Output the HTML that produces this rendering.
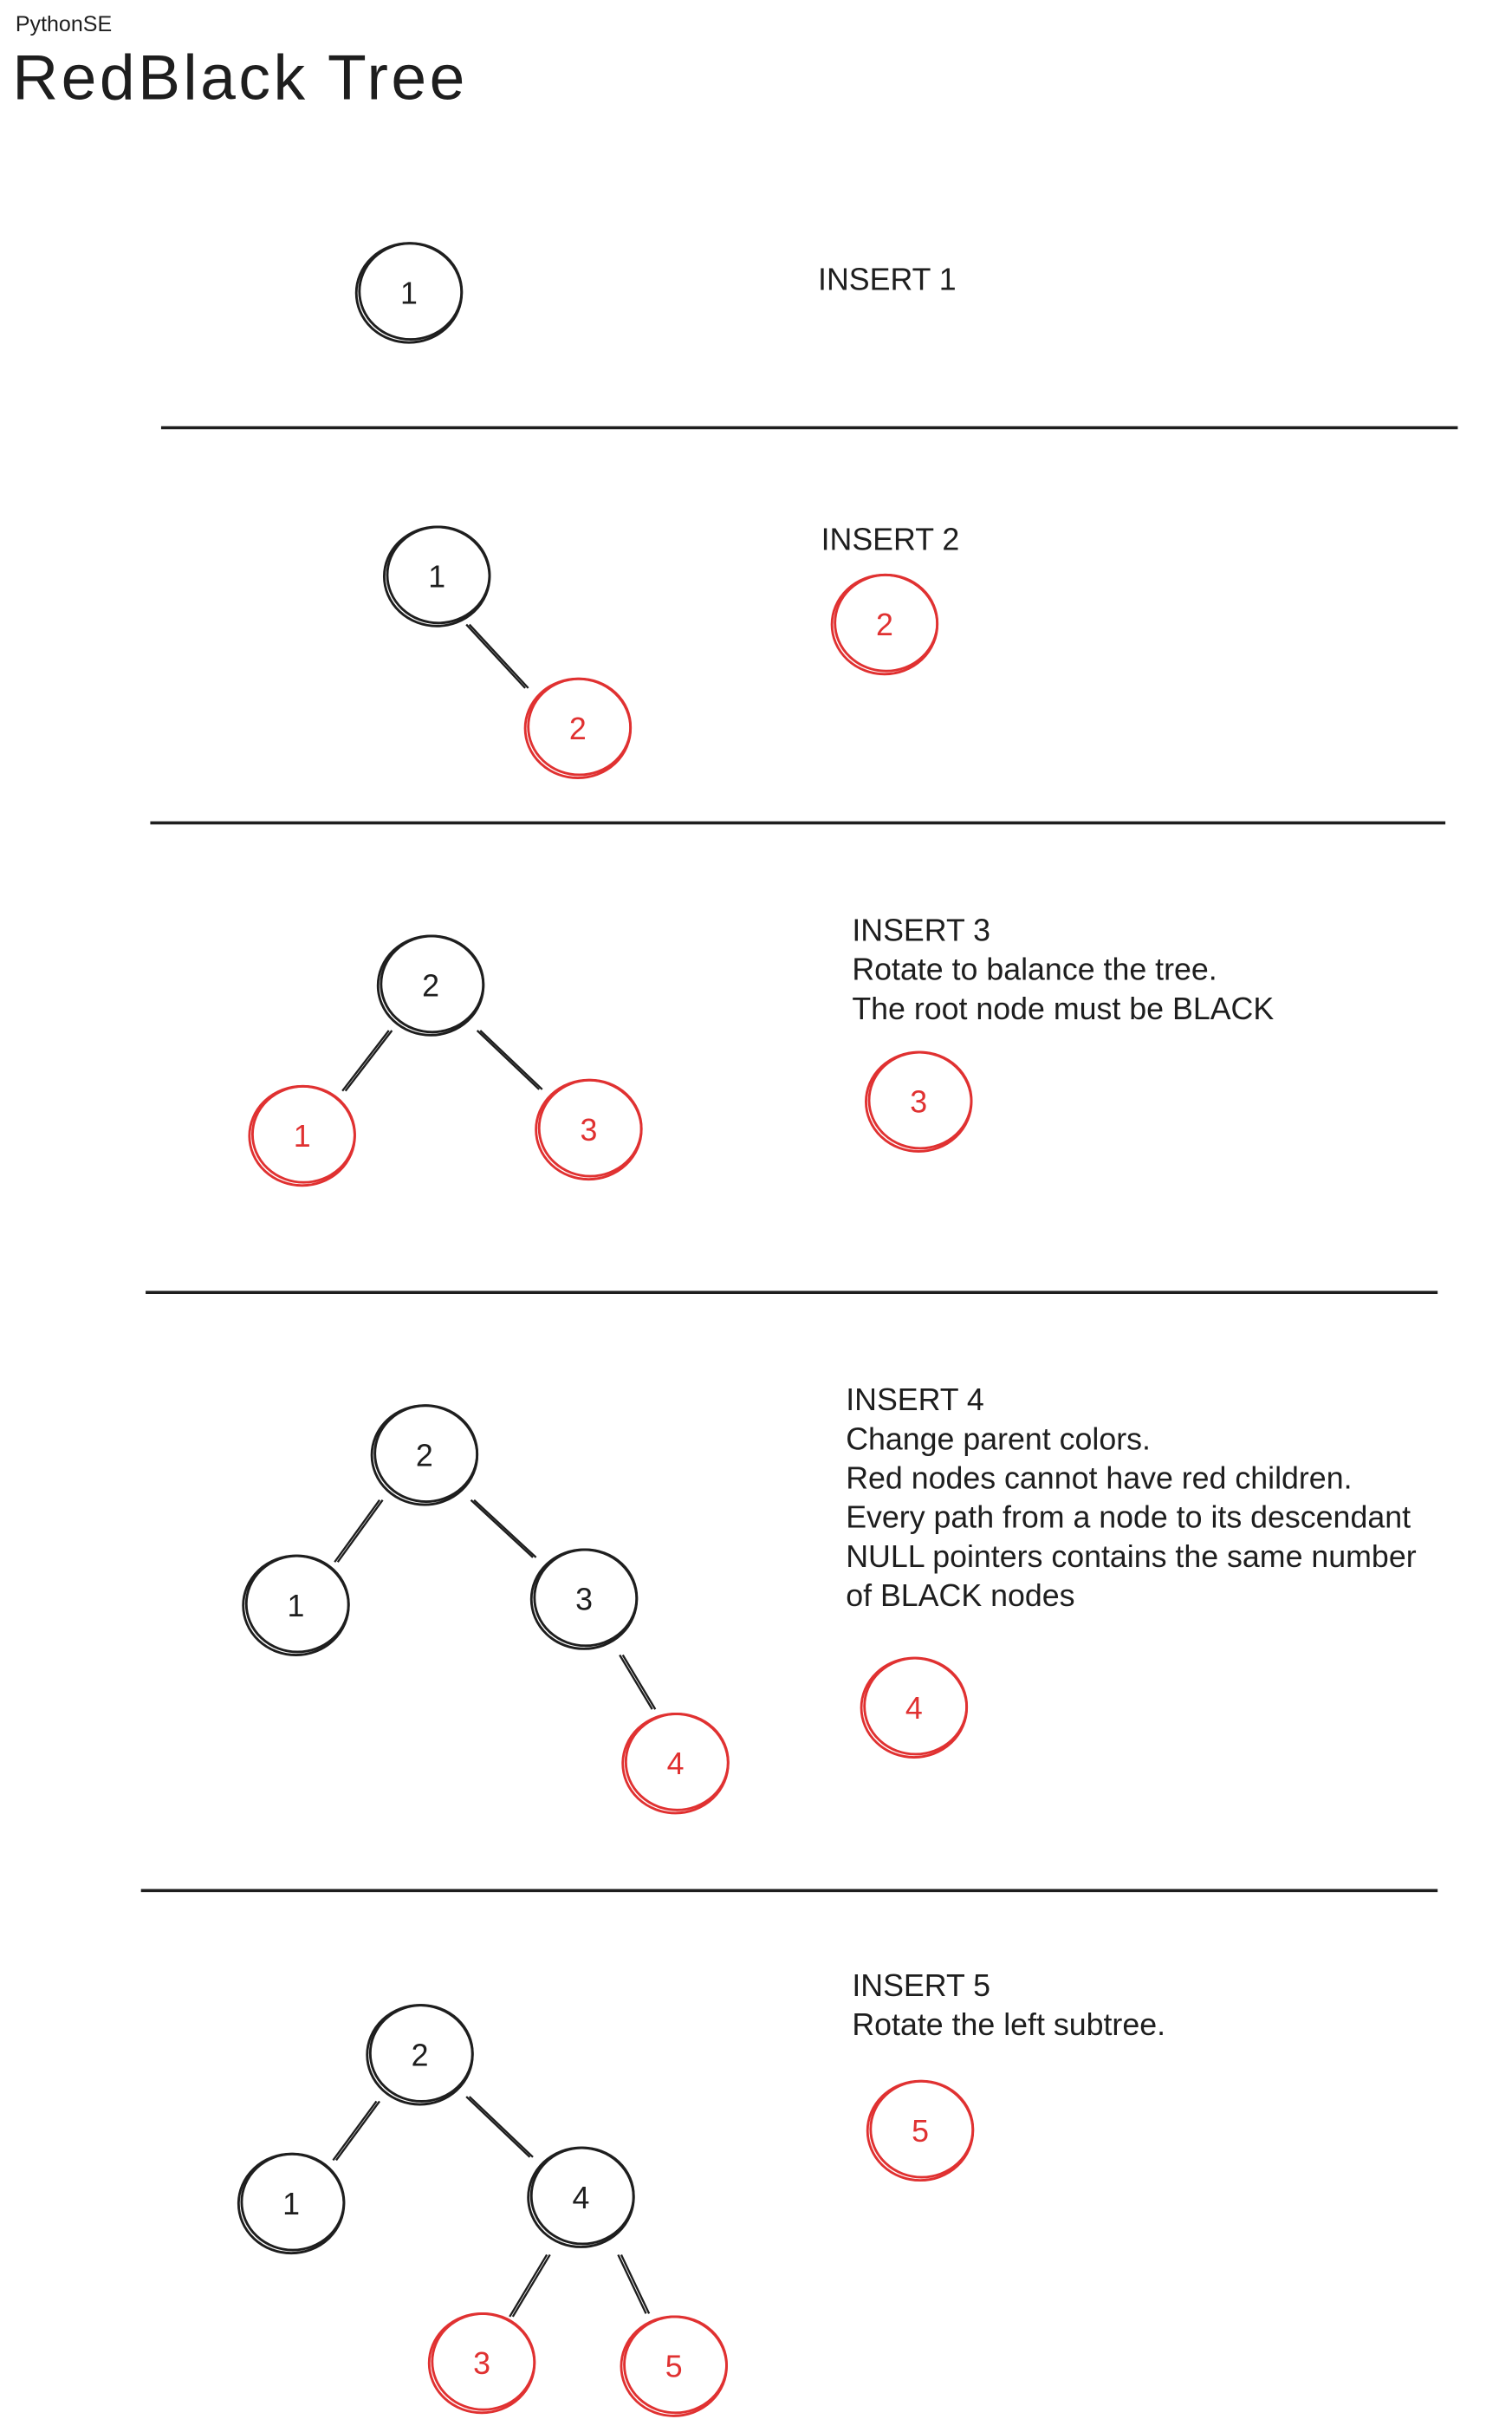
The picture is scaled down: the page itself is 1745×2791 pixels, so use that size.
<!DOCTYPE html>
<html>
<head>
<meta charset="utf-8">
<style>
html,body{margin:0;padding:0;background:#fff;}
svg{display:block;}
text{font-family:"Liberation Sans",sans-serif;}
</style>
</head>
<body>
<svg id="chart" width="1745" height="2791" viewBox="0 0 976 1561" xmlns="http://www.w3.org/2000/svg">
<rect width="976" height="1561" fill="#fff"/>
<text x="10" y="20" font-size="14" fill="#1e1e1e">PythonSE</text>
<text x="8" y="64" font-size="41" fill="#1e1e1e" textLength="292">RedBlack Tree</text>
<g transform="translate(-1,-2)">
<g id="lines"></g>
<g id="edges"></g>
<g id="nodes"></g>
<g id="notes"></g>
</g>
</svg>
<script>
const NS='http://www.w3.org/2000/svg';
// nodes: [x, y, label, color]
const nodes=[
 [265,191,'1','b'],
 [283,374,'1','b'],[374,472,'2','r'],[572,405,'2','r'],
 [279,638,'2','b'],[196,735,'1','r'],[381,731,'3','r'],[594,713,'3','r'],
 [275,941,'2','b'],[192,1038,'1','b'],[378,1034,'3','b'],[437,1140,'4','r'],[591,1104,'4','r'],
 [272,1328,'2','b'],[189,1424,'1','b'],[376,1420,'4','b'],[312,1527,'3','r'],[436,1529,'5','r'],[595,1377,'5','r']
];
const edges=[
 [302,405,340,446],
 [252,667,222,706],[309,667,349,705],
 [246,970,217,1010],[305,970,345,1007],[401,1070,422,1105],
 [244,1358,216,1396],[302,1355,343,1394],[354,1457,330,1497],[400,1457,418,1495]
];
const dividers=[[105,278,942],[98,533,934],[95,836,929],[92,1222,929]];
const notes=[
 [529,189,['INSERT 1']],
 [531,357,['INSERT 2']],
 [551,609,['INSERT 3','Rotate to balance the tree.','The root node must be BLACK']],
 [547,912,['INSERT 4','Change parent colors.','Red nodes cannot have red children.','Every path from a node to its descendant','NULL pointers contains the same number','of BLACK nodes']],
 [551,1290,['INSERT 5','Rotate the left subtree.']]
];
const gl=document.getElementById('lines'),ge=document.getElementById('edges'),gn=document.getElementById('nodes'),gt=document.getElementById('notes');
dividers.forEach(d=>{
 const l=document.createElementNS(NS,'line');
 
 
 l.setAttribute('x1',d[0]);l.setAttribute('x2',d[2]);l.setAttribute('y1',d[1]);l.setAttribute('y2',d[1]);
 l.setAttribute('stroke','#1e1e1e');l.setAttribute('stroke-width','2');
 gl.appendChild(l);
});
edges.forEach(e=>{
 for(const o of [0,2]){
 const l=document.createElementNS(NS,'line');
 
 
 l.setAttribute('x1',e[0]+o);l.setAttribute('y1',e[1]);l.setAttribute('x2',e[2]+o);l.setAttribute('y2',e[3]);
 l.setAttribute('stroke','#1e1e1e');l.setAttribute('stroke-width','1.3');
 ge.appendChild(l);}
});
nodes.forEach(n=>{
 const col=n[3]==='r'?'#e03131':'#1e1e1e';
 const g=document.createElementNS(NS,'g');
 
 
 for(const [dx,dy,r] of [[0,0,34],[1,-1,33]]){
  const c=document.createElementNS(NS,'ellipse');
  c.setAttribute('cx',n[0]+dx);c.setAttribute('cy',n[1]+dy);c.setAttribute('rx',r);c.setAttribute('ry',r-2);
  c.setAttribute('fill','none');c.setAttribute('stroke',col);c.setAttribute('stroke-width','1.6');
  g.appendChild(c);
 }
 const t=document.createElementNS(NS,'text');
 t.setAttribute('x',n[0]);t.setAttribute('y',n[1]+7);t.setAttribute('text-anchor','middle');
 t.setAttribute('font-size','20');t.setAttribute('fill',col);t.textContent=n[2];
 g.appendChild(t);
 gn.appendChild(g);
});
notes.forEach(nt=>{
 nt[2].forEach((s,i)=>{
  const t=document.createElementNS(NS,'text');
  
  
  t.setAttribute('x',nt[0]);t.setAttribute('y',nt[1]+i*25.3);
  t.setAttribute('font-size','20');t.setAttribute('fill','#1e1e1e');
  t.textContent=s;gt.appendChild(t);
 });
});
</script>
</body>
</html>
